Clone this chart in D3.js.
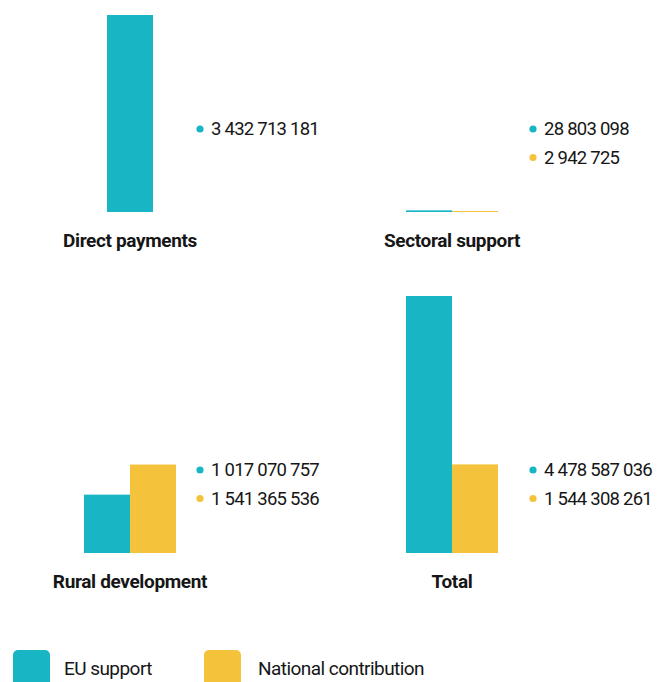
<!DOCTYPE html>
<html>
<head>
<meta charset="utf-8">
<script src="https://cdn.jsdelivr.net/npm/d3@7"></script>
<style>
  body { margin: 0; background: #fff; }
  text { font-family: Roboto, "Noto Sans", sans-serif; fill: #161616; }
</style>
</head>
<body>
<div id="chart"></div>
<script>
const width = 670, height = 682;

// data
const categories = ["Direct payments", "Sectoral support", "Rural development", "Total"];
const euSupport = [3432713181, 28803098, 1017070757, 4478587036];
const nationalContribution = [null, 2942725, 1541365536, 1544308261];
const seriesNames = ["EU support", "National contribution"];
const colors = ["#18b6c4", "#f5c33b"];

// layout of the 2x2 grid
const cols = [130, 452],       // panel centre x
      labelX = [211, 544],     // where value labels start
      baselines = [212, 553],  // panel baseline y
      barW = 46,
      maxBarH = 257;

const fmt = v => d3.format(",")(v).replace(/,/g, " ");

const svg = d3.select("#chart")
  .append("svg")
  .attr("width", width)
  .attr("height", height)
  .attr("viewBox", [0, 0, width, height]);

// one shared value scale so panels compare
const y = d3.scaleLinear()
  .domain([0, d3.max(euSupport)])
  .range([0, maxBarH]);

categories.forEach((cat, i) => {
  const col = i % 2, cx = cols[col], base = baselines[Math.floor(i / 2)];
  const vals = [euSupport[i], nationalContribution[i]]
    .map((v, k) => ({ key: seriesNames[k], value: v, color: colors[k] }))
    .filter(d => d.value != null);

  const x = d3.scaleBand()
    .domain(vals.map(d => d.key))
    .range([cx - barW * vals.length / 2, cx + barW * vals.length / 2])
    .paddingInner(0);

  const g = svg.append("g").attr("class", "panel");

  g.selectAll("rect")
    .data(vals)
    .join("rect")
    .attr("x", d => x(d.key))
    .attr("width", x.bandwidth())
    .attr("y", d => base - Math.max(y(d.value), 1))
    .attr("height", d => Math.max(y(d.value), 1))
    .attr("fill", d => d.color);

  // value labels to the right
  const lab = g.selectAll("g.lab")
    .data(vals)
    .join("g")
    .attr("class", "lab")
    .attr("transform", (d, k) => `translate(${labelX[col]},${base - 83 + k * 28.5})`);

  lab.append("circle")
    .attr("r", 3.6)
    .attr("cx", -11)
    .attr("cy", 0)
    .attr("fill", d => d.color);

  lab.append("text")
    .attr("dy", "0.35em")
    .attr("font-size", 18.5)
    .attr("font-weight", 400)
    .attr("letter-spacing", -0.75)
    .text(d => fmt(d.value));

  g.append("text")
    .attr("x", cx)
    .attr("y", base + 35)
    .attr("text-anchor", "middle")
    .attr("font-size", 19)
    .attr("font-weight", 700)
    .attr("letter-spacing", -0.35)
    .text(cat);
});

// legend
const legend = svg.append("g")
  .selectAll("g")
  .data(seriesNames)
  .join("g")
  .attr("transform", (d, k) => `translate(${[13, 204][k]},650)`);

legend.append("rect")
  .attr("width", 37)
  .attr("height", 40)
  .attr("rx", 5)
  .attr("fill", (d, k) => colors[k]);

legend.append("text")
  .attr("x", (d, k) => [51, 54][k])
  .attr("y", 18)
  .attr("dy", "0.35em")
  .attr("font-size", 19)
  .attr("letter-spacing", -0.55)
  .text(d => d);
</script>
</body>
</html>
